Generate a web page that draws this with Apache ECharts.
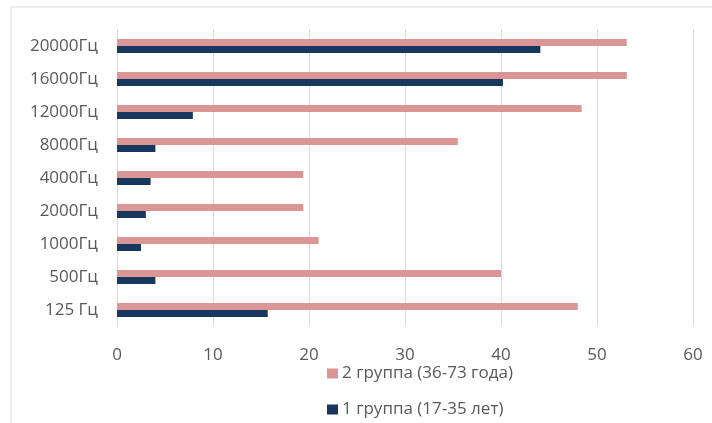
<!DOCTYPE html>
<html>
<head>
<meta charset="utf-8">
<script src="https://cdn.jsdelivr.net/npm/echarts@6/dist/echarts.min.js"></script>
<style>
  html, body { margin: 0; padding: 0; background: #fff; }
  #chart { width: 712px; height: 423px; }
</style>
</head>
<body>
<div id="chart"></div>
<script>
// Hearing thresholds by frequency for two age groups
const categories = ['125 Гц', '500Гц', '1000Гц', '2000Гц', '4000Гц', '8000Гц', '12000Гц', '16000Гц', '20000Гц'];
const group1Name = '1 группа (17-35 лет)';
const group2Name = '2 группа (36-73 года)';
const group1Values = [15.7, 4, 2.5, 3, 3.5, 4, 7.9, 40.2, 44.1];
const group2Values = [48, 40, 21, 19.4, 19.4, 35.5, 48.4, 53.1, 53.1];
const xTicks = { min: 0, max: 60, interval: 10 };

const FONT = 'Open Sans';
const TEXT = '#595959';
const GRID = '#d9d9d9';

const chart = echarts.init(document.getElementById('chart'), null, { renderer: 'canvas' });

chart.setOption({
  backgroundColor: '#ffffff',
  animation: false,
  textStyle: { fontFamily: FONT, color: TEXT },
  graphic: [{
    type: 'rect',
    shape: { x: 11, y: 7, width: 900, height: 600 },
    style: { fill: 'none', stroke: GRID, lineWidth: 1 },
    silent: true
  }],
  grid: { left: 117, right: 19, top: 29.5, height: 297, containLabel: false },
  legend: {
    orient: 'vertical',
    left: 322,
    top: 360,
    itemWidth: 11,
    itemHeight: 10,
    itemGap: 19,
    icon: 'rect',
    data: [group2Name, group1Name],
    textStyle: { fontFamily: FONT, fontSize: 17, color: TEXT, padding: [0, 0, 0, -1] }
  },
  xAxis: {
    type: 'value',
    min: xTicks.min,
    max: xTicks.max,
    interval: xTicks.interval,
    axisLine: { show: false },
    axisTick: { show: false },
    splitLine: { show: true, lineStyle: { color: GRID, width: 1 } },
    axisLabel: { fontFamily: FONT, fontSize: 17, color: TEXT, margin: 20 }
  },
  yAxis: {
    type: 'category',
    data: categories,
    axisLine: { show: true, lineStyle: { color: GRID } },
    axisTick: { show: false },
    axisLabel: { fontFamily: FONT, fontSize: 17, color: TEXT, margin: 19 }
  },
  series: [
    {
      name: group2Name,
      type: 'bar',
      data: group2Values,
      barWidth: 7,
      barGap: '0%',
      itemStyle: { color: '#D99694' }
    },
    {
      name: group1Name,
      type: 'bar',
      data: group1Values,
      barWidth: 7,
      barGap: '0%',
      itemStyle: { color: '#17375E' }
    }
  ]
});
</script>
</body>
</html>
